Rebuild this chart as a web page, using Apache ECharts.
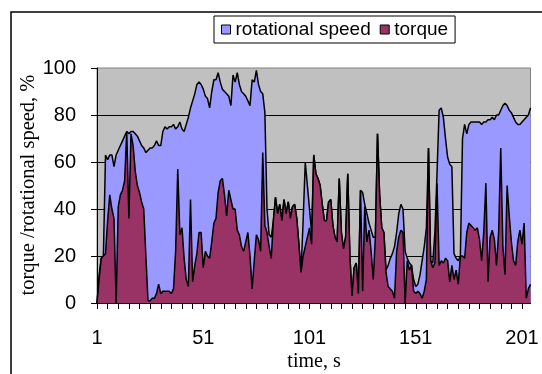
<!DOCTYPE html>
<html>
<head>
<meta charset="utf-8">
<script src="https://cdn.jsdelivr.net/npm/echarts@6/dist/echarts.min.js"></script>
<style>
html, body { margin: 0; padding: 0; background: #fff; }
#chart { width: 542px; height: 374px; }
</style>
</head>
<body>
<div id="chart"></div>
<script>
// Time axis: one sample per second, 1 .. 205
const timeLabels = [];
for (let t = 1; t <= 205; t++) timeLabels.push(String(t));

// Rotational speed, % of rated
const speedValues = [
  0, 12, 19, 20, 63, 61, 63, 63, 58, 63,
  65, 67, 69, 71, 73, 72, 73, 73, 72, 71,
  69, 67, 66, 64, 65, 66, 66, 67, 69, 67,
  67, 73, 75, 74, 75, 75, 76, 74, 75, 77,
  74, 73, 76, 79, 83, 86, 89, 93, 94, 93,
  91, 88, 87, 83, 90, 95, 95, 98, 94, 91,
  90, 89, 88, 84, 97, 94, 98, 93, 90, 89,
  88, 86, 84, 95, 94, 99, 93, 90, 89, 81,
  40, 29, 28, 35, 45, 38, 42, 35, 44, 38,
  43, 36, 41, 42, 36, 25, 13, 35, 60, 50,
  40, 30, 63, 55, 53, 50, 42, 35, 35, 43,
  44, 33, 28, 26, 53, 30, 23, 28, 55, 20,
  3, 15, 17, 4, 48, 47, 42, 38, 34, 31,
  28, 28, 72, 46, 32, 30, 14, 16, 19, 21,
  24, 30, 38, 42, 40, 22, 19, 17, 16, 10,
  7, 8, 12, 18, 24, 32, 66, 18, 17, 30,
  55, 82, 83, 79, 70, 62, 59, 58, 21, 19,
  18, 20, 70, 76, 72, 76, 77, 77, 77, 77,
  77, 76, 77, 77, 78, 78, 79, 78, 80, 80,
  82, 84, 85, 84, 82, 81, 79, 77, 76, 76,
  77, 78, 79, 80, 83
];

// Torque, % of rated
const torqueValues = [
  0, 10, 19, 20, 21, 35, 46, 40, 36, 0,
  41, 46, 48, 52, 73, 36, 72, 67, 56, 50,
  47, 43, 40, 20, 1, 1, 2, 2, 4, 8,
  4, 5, 5, 5, 5, 4, 6, 22, 57, 29,
  32, 19, 10, 7, 44, 9, 16, 21, 30, 30,
  15, 22, 20, 19, 26, 34, 36, 47, 52, 53,
  46, 37, 48, 44, 40, 40, 31, 29, 24, 22,
  26, 30, 20, 6, 18, 29, 27, 22, 64, 33,
  30, 24, 19, 35, 45, 38, 42, 35, 44, 38,
  43, 36, 41, 42, 36, 25, 13, 20, 24, 28,
  32, 25, 63, 55, 53, 50, 42, 35, 35, 43,
  44, 33, 28, 26, 53, 30, 23, 28, 55, 20,
  3, 15, 17, 4, 48, 5, 41, 26, 31, 22,
  10, 28, 72, 46, 32, 30, 13, 7, 6, 5,
  2, 22, 28, 31, 30, 0, 18, 14, 16, 5,
  4, 5, 4, 2, 5, 10, 66, 18, 15, 17,
  51, 16, 18, 17, 19, 18, 9, 16, 10, 14,
  8, 20, 20, 19, 30, 34, 33, 32, 31, 32,
  27, 18, 30, 51, 9, 28, 31, 27, 16, 30,
  66, 24, 12, 50, 37, 26, 18, 16, 26, 31,
  25, 34, 2, 6, 8
];

const seriesNames = ['rotational speed', 'torque'];
const seriesColors = ['#9999ff', '#993366'];

const chart = echarts.init(document.getElementById('chart'), null, { renderer: 'canvas' });

chart.setOption({
  animation: false,
  backgroundColor: '#ffffff',
  grid: {
    left: 97, right: 11.5, top: 68, bottom: 71,
    show: true,
    backgroundColor: '#c0c0c0',
    borderColor: '#808080',
    borderWidth: 1,
    containLabel: false,
    outerBoundsMode: 'none'
  },
  legend: {
    left: 214, top: 16,
    orient: 'horizontal',
    icon: 'rect',
    itemWidth: 9, itemHeight: 9, itemGap: 9,
    padding: [4, 7],
    borderColor: '#000', borderWidth: 1,
    backgroundColor: '#ffffff',
    textStyle: { color: '#000', fontSize: 19, fontFamily: 'Liberation Sans' },
    itemStyle: { borderColor: '#000', borderWidth: 1 },
    data: seriesNames
  },
  xAxis: {
    type: 'category',
    data: timeLabels,
    boundaryGap: false,
    axisLine: { lineStyle: { color: '#000', width: 1 } },
    axisTick: { show: true, interval: 4, length: 6, inside: false, lineStyle: { color: '#000' } },
    axisLabel: { interval: 49, color: '#000', fontFamily: 'Liberation Sans', fontSize: 20, margin: 25 },
    splitLine: { show: false }
  },
  yAxis: {
    type: 'value',
    min: 0, max: 100, interval: 20,
    axisLine: { show: true, lineStyle: { color: '#000', width: 1 } },
    axisTick: { show: true, length: 6, lineStyle: { color: '#000' } },
    axisLabel: { color: '#000', fontFamily: 'Liberation Sans', fontSize: 20, margin: 21 },
    splitLine: { show: true, showMaxLine: false, lineStyle: { color: '#000', width: 1 } }
  },
  series: [
    {
      name: seriesNames[0],
      type: 'line',
      data: speedValues,
      symbol: 'none',
      z: 2,
      itemStyle: { color: seriesColors[0] },
      lineStyle: { color: '#000', width: 1.5 },
      areaStyle: { color: seriesColors[0], opacity: 1 }
    },
    {
      name: seriesNames[1],
      type: 'line',
      data: torqueValues,
      symbol: 'none',
      z: 3,
      itemStyle: { color: seriesColors[1] },
      lineStyle: { color: '#000', width: 1.5 },
      areaStyle: { color: seriesColors[1], opacity: 1 }
    }
  ],
  graphic: [
    {
      type: 'rect',
      silent: true,
      shape: { x: 11, y: 12, width: 545, height: 375 },
      style: { fill: 'none', stroke: '#000', lineWidth: 1.5 }
    },
    {
      type: 'text',
      x: 29, y: 185,
      rotation: Math.PI / 2,
      style: {
        text: 'torque /rotational speed, %',
        fill: '#000',
        fontSize: 20.5,
        fontFamily: 'Liberation Serif',
        align: 'center',
        verticalAlign: 'middle'
      }
    },
    {
      type: 'text',
      x: 314, y: 362,
      style: {
        text: 'time, s',
        fill: '#000',
        fontSize: 20,
        fontFamily: 'Liberation Serif',
        align: 'center',
        verticalAlign: 'middle'
      }
    }
  ]
});
</script>
</body>
</html>
